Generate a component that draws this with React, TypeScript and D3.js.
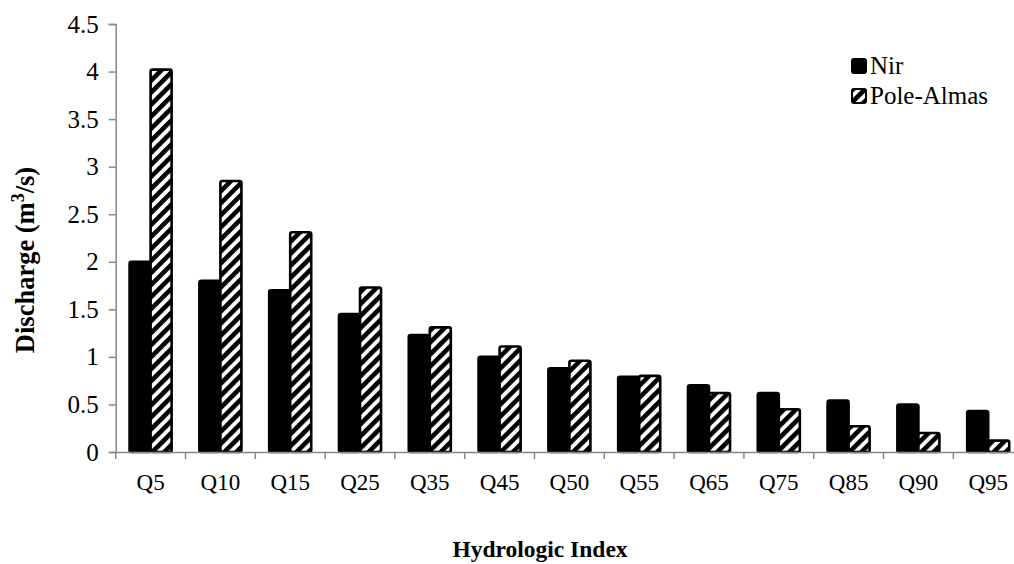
import React, { useEffect, useRef } from "react";
import * as d3 from "d3";

const categories = ["Q5", "Q10", "Q15", "Q25", "Q35", "Q45", "Q50", "Q55", "Q65", "Q75", "Q85", "Q90", "Q95"];
const nir = [2.0, 1.8, 1.7, 1.45, 1.23, 1.0, 0.88, 0.79, 0.7, 0.62, 0.54, 0.5, 0.43];
const poleAlmas = [4.02, 2.85, 2.31, 1.73, 1.31, 1.11, 0.96, 0.8, 0.62, 0.45, 0.27, 0.2, 0.12];
const seriesNames = ["Nir", "Pole-Almas"];
const yTicks = [0, 0.5, 1, 1.5, 2, 2.5, 3, 3.5, 4, 4.5];

export default function App() {
  const svgRef = useRef<SVGSVGElement>(null);

  useEffect(() => {
    if (!svgRef.current) return;
    const svg = d3.select(svgRef.current);
    svg.selectAll("*").remove();

    const W = 1014, H = 564;
    const left = 115.7, base = 452, top = 24;
    const bandW = 69.8;
    const font = "'Liberation Serif', 'Times New Roman', serif";
    const axisColor = "#888";

    svg.attr("width", W).attr("height", H);

    // hatch pattern
    const defs = svg.append("defs");
    const pat = defs.append("pattern")
      .attr("id", "hatch")
      .attr("patternUnits", "userSpaceOnUse")
      .attr("width", 8.5).attr("height", 8.5)
      .attr("patternTransform", "rotate(45)");
    pat.append("rect").attr("width", 8.5).attr("height", 8.5).attr("fill", "#fff");
    pat.append("rect").attr("width", 4.6).attr("height", 8.5).attr("fill", "#000");

    const x = d3.scaleBand<string>().domain(categories)
      .range([left, left + bandW * categories.length]).padding(0);
    const x1 = d3.scaleBand<string>().domain(seriesNames)
      .range([0, bandW]).paddingInner(0).paddingOuter(0.66);
    const y = d3.scaleLinear().domain([0, 4.5]).range([base, top]);

    // bars
    const values = [nir, poleAlmas];
    seriesNames.forEach((s, si) => {
      svg.append("g").selectAll("rect")
        .data(categories)
        .join("rect")
        .attr("x", (c) => (x(c) as number) + (x1(s) as number))
        .attr("y", (_c, i) => y(values[si][i]))
        .attr("width", x1.bandwidth())
        .attr("height", (_c, i) => base - y(values[si][i]))
        .attr("rx", 2)
        .attr("fill", si === 0 ? "#000" : "url(#hatch)")
        .attr("stroke", "#000")
        .attr("stroke-width", 2.6);
    });

    // y axis
    const yAxis = svg.append("g")
      .attr("transform", `translate(${left},0)`)
      .call(d3.axisLeft(y).tickValues(yTicks).tickSize(7).tickPadding(10)
        .tickFormat((d) => String(d)));
    yAxis.select(".domain").attr("stroke", axisColor).attr("stroke-width", 1.5);
    yAxis.selectAll(".tick line").attr("stroke", axisColor).attr("stroke-width", 1.5);
    yAxis.selectAll(".tick text")
      .attr("fill", "#000").style("font-family", font).style("font-size", "25px");

    // x axis
    const xAxis = svg.append("g")
      .attr("transform", `translate(0,${base})`)
      .call(d3.axisBottom(x).tickSize(0).tickPadding(22).tickSizeOuter(0));
    xAxis.select(".domain").attr("stroke", axisColor).attr("stroke-width", 1.5);
    xAxis.selectAll(".tick text")
      .attr("fill", "#000").style("font-family", font).style("font-size", "23px");
    // boundary ticks between categories
    xAxis.append("g").selectAll("line")
      .data(d3.range(categories.length + 1))
      .join("line")
      .attr("x1", (i) => left + i * bandW)
      .attr("x2", (i) => left + i * bandW)
      .attr("y1", 0).attr("y2", 7)
      .attr("stroke", axisColor).attr("stroke-width", 1.5);

    // axis titles
    svg.append("text")
      .attr("x", 540).attr("y", 557)
      .attr("text-anchor", "middle")
      .style("font-family", font).style("font-size", "23.5px").style("font-weight", "bold")
      .text("Hydrologic Index");

    const yt = svg.append("text")
      .attr("transform", "translate(34,260) rotate(-90)")
      .attr("text-anchor", "middle")
      .style("font-family", font).style("font-size", "26.5px").style("font-weight", "bold");
    yt.append("tspan").text("Discharge (m");
    yt.append("tspan").attr("dy", -10).style("font-size", "18px").text("3");
    yt.append("tspan").attr("dy", 10).text("/s)");

    // legend
    const lg = svg.append("g").attr("transform", "translate(851,58)");
    seriesNames.forEach((s, i) => {
      const row = lg.append("g").attr("transform", `translate(0,${i * 30})`);
      row.append("rect")
        .attr("x", 1).attr("y", 1).attr("width", 14).attr("height", 14).attr("rx", 2)
        .attr("fill", i === 0 ? "#000" : "url(#hatch)")
        .attr("stroke", "#000").attr("stroke-width", 2);
      row.append("text")
        .attr("x", 19).attr("y", 16)
        .style("font-family", font).style("font-size", "25px")
        .text(s);
    });
  }, []);

  return (
    <div style={{ position: "fixed", left: 0, top: 0, width: 1014, height: 564, background: "#fff" }}>
      <svg ref={svgRef} style={{ display: "block" }} />
    </div>
  );
}
